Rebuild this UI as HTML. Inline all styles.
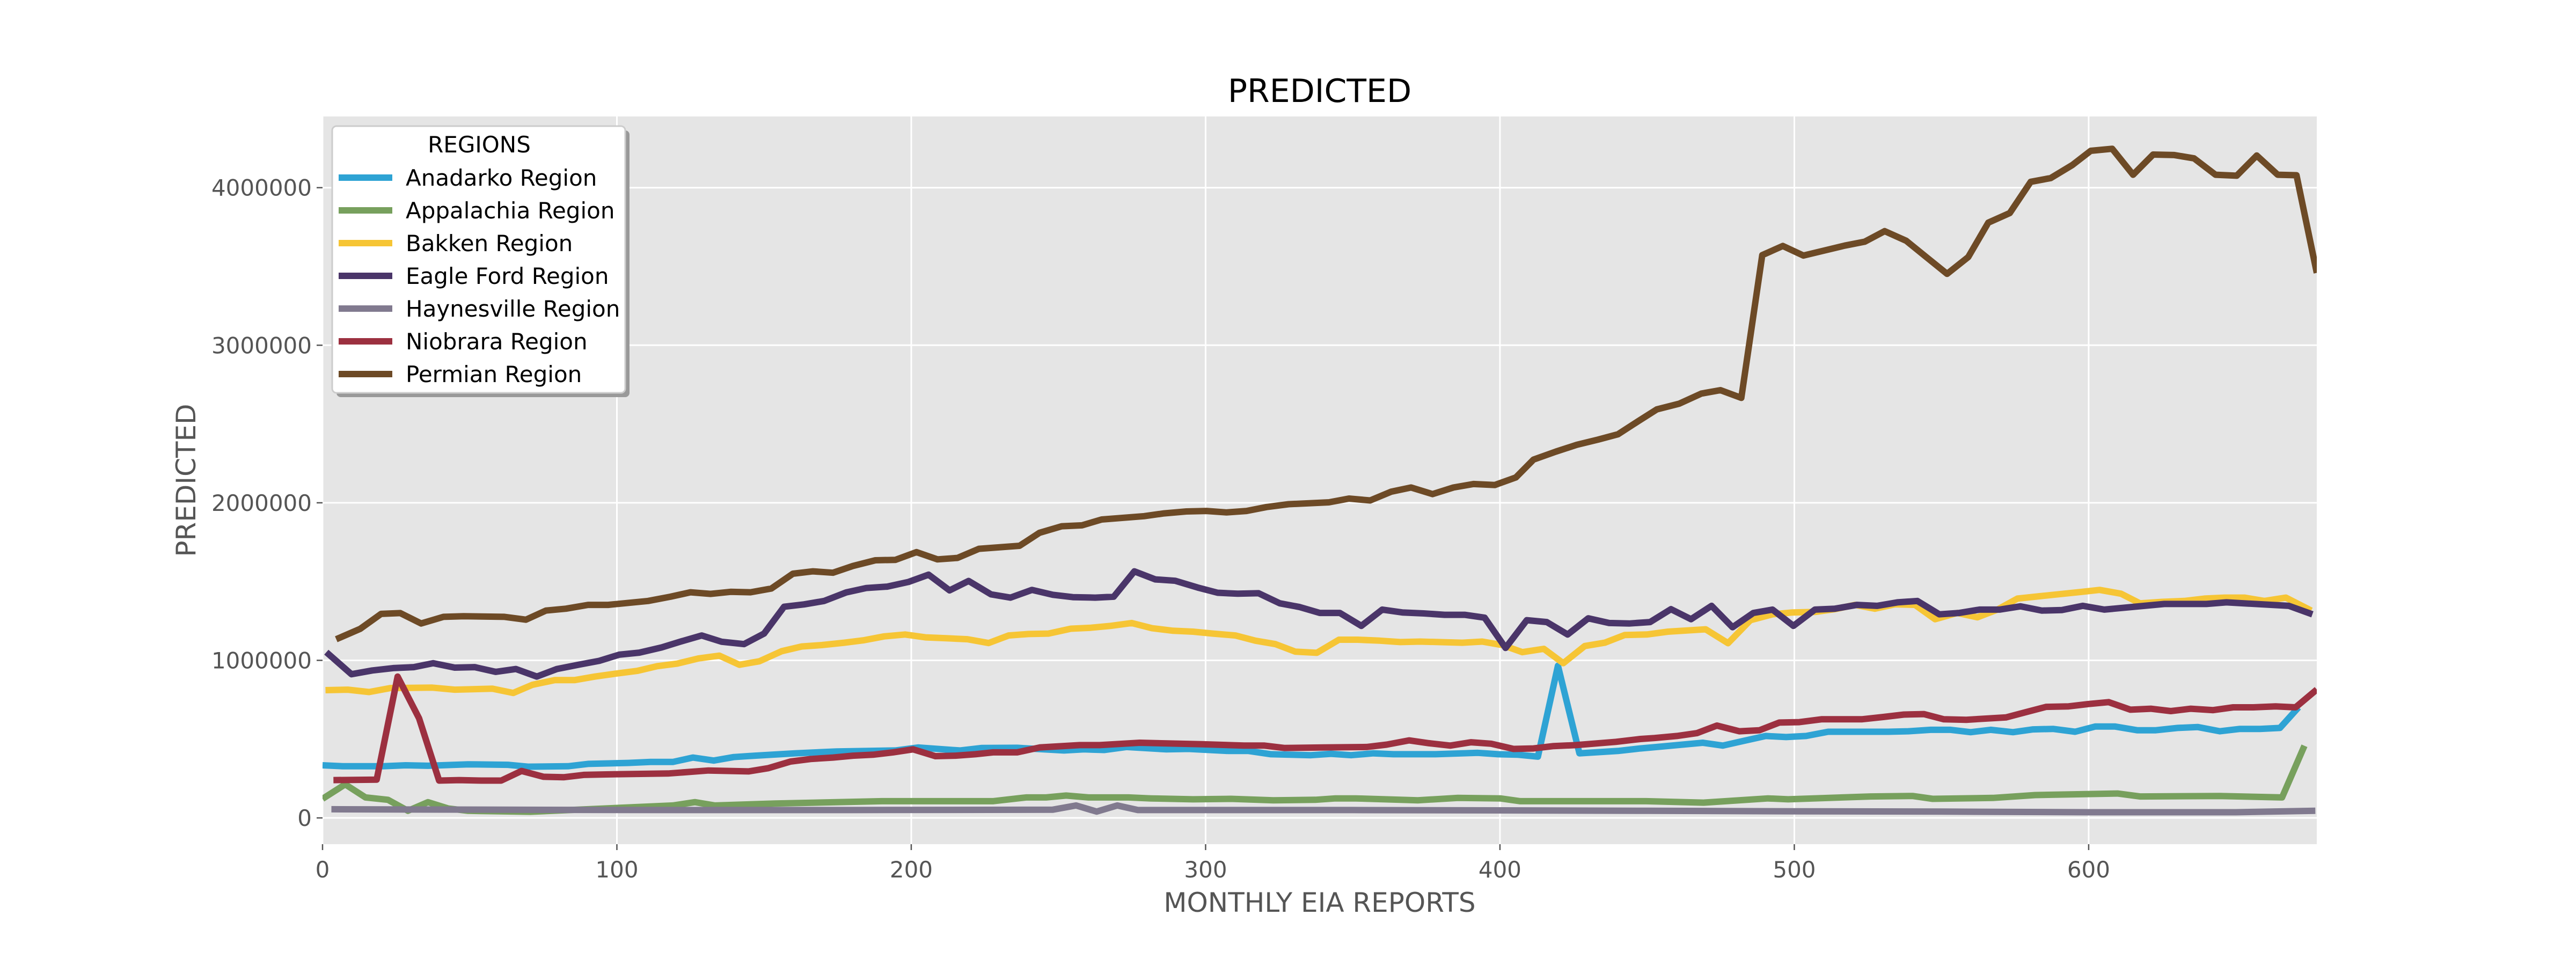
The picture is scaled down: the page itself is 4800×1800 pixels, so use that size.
<!DOCTYPE html>
<html><head><meta charset="utf-8"><style>
html,body{margin:0;padding:0;background:#fff;}
svg{display:block;font-family:"DejaVu Sans","Liberation Sans",sans-serif;}
</style></head><body>
<svg id="chart" width="4800" height="1800" viewBox="0 0 4800 1800">
<rect x="601" y="217" width="3716" height="1356" fill="#e5e5e5"/>
<g id="grid"></g>
<g id="axes"></g>
<g id="series"></g>
<text x="2459" y="190" font-size="60" text-anchor="middle" fill="#000">PREDICTED</text>
<text x="2459" y="1699" font-size="50" text-anchor="middle" fill="#555">MONTHLY EIA REPORTS</text>
<text x="0" y="0" font-size="50" text-anchor="middle" fill="#555" transform="translate(364,895) rotate(-90)">PREDICTED</text>
<g id="legend">
<rect x="627" y="243" width="546" height="497" rx="8" fill="#999"/>
<rect x="619" y="235" width="546" height="497" rx="8" fill="#fff" stroke="#ccc" stroke-width="3"/>
<text x="893" y="284" font-size="42" text-anchor="middle" fill="#000">REGIONS</text>
</g>
</svg>
<script>
const NS='http://www.w3.org/2000/svg';
const xTicks=[0,100,200,300,400,500,600];
const yTicks=[0,1000000,2000000,3000000,4000000];
const yTickLabels=['0','1000000','2000000','3000000','4000000'];
const seriesNames=['Anadarko Region','Appalachia Region','Bakken Region','Eagle Ford Region','Haynesville Region','Niobrara Region','Permian Region'];
const seriesColors=['#2ea3d4','#77a05d','#f6c535','#4a3569','#817a8f','#9c3040','#6d4a26'];
// values in millions
const anadarkoX=[0,7,20.7,28.2,35.8,49.4,63,69.8,83.4,90.2,103.8,111.4,119,125.8,132.9,139.7,146.9,160.5,174.6,194.6,202.4,216.5,224,236,251.9,258.7,265.5,273.1,286.7,294.2,307.8,314.6,322.2,335.8,342.6,349.4,357,363.8,378.1,392.5,399.3,406.1,412.9,419.7,427,440.1,447.7,454.8,468.9,475.7,482.8,490.3,497.2,504,511.5,531.9,538.7,546.3,553.1,559.9,566.7,574.3,581.1,587.9,595.4,602.2,609,616.6,622.6,630.2,637,644.6,651.4,658.2,665,671.3];
const anadarkoY=[0.334,0.328,0.328,0.334,0.331,0.34,0.337,0.325,0.328,0.343,0.349,0.355,0.355,0.383,0.364,0.386,0.395,0.41,0.422,0.428,0.447,0.428,0.444,0.445,0.428,0.435,0.431,0.45,0.435,0.438,0.425,0.425,0.404,0.398,0.407,0.398,0.41,0.404,0.404,0.413,0.404,0.401,0.389,0.966,0.41,0.425,0.441,0.453,0.477,0.459,0.489,0.52,0.513,0.52,0.547,0.547,0.55,0.559,0.559,0.544,0.559,0.544,0.562,0.565,0.547,0.58,0.58,0.556,0.556,0.571,0.577,0.55,0.565,0.565,0.571,0.702];
const appalachiaX=[0,7.7,14.6,22.2,29,35.8,42.6,49.4,70.6,119,126.5,133.3,153.7,190,227.7,239,245.8,252.6,260.2,273.8,281.4,295.7,308.6,323,337.3,344.1,351,372.1,385.7,400.1,406.9,449.7,469.2,491.1,497.9,525.9,540.2,547,567.5,581.8,609.8,617.4,644.6,665.7,673.3];
const appalachiaY=[0.121,0.213,0.13,0.115,0.045,0.1,0.06,0.045,0.039,0.079,0.1,0.079,0.091,0.106,0.106,0.13,0.13,0.142,0.13,0.13,0.124,0.118,0.121,0.112,0.115,0.124,0.124,0.112,0.127,0.124,0.106,0.106,0.097,0.124,0.118,0.136,0.139,0.121,0.127,0.145,0.155,0.136,0.139,0.13,0.458];
const bakkenX=[1,8.6,15.8,23,37.3,44.9,57.7,64.8,71.3,78.9,85.7,92.5,99.3,106.9,113.7,120.5,127.7,134.8,141.6,148.4,156,162.8,169.6,177.2,184,190.8,197.9,204.8,212.4,219.1,226.3,233.1,239.8,246.6,254.2,261,267.8,274.9,281.8,288.9,295.7,302.5,310.1,316.9,323.7,330.5,337.8,345.3,351.7,359.2,366.1,372.9,387.2,394,400.8,407.6,414.9,421.5,428.8,435.6,442.4,449.9,457.1,469.9,477.5,485.1,492.6,499.4,507,513.8,520.6,527.4,534.2,541,547.8,555.4,562.2,569,575.8,583.3,597.7,603.7,611,617.4,624.9,632.5,639.3,646.1,652.9,659.7,667,675.6];
const bakkenY=[0.811,0.814,0.799,0.824,0.827,0.814,0.82,0.793,0.845,0.875,0.875,0.897,0.915,0.933,0.963,0.979,1.012,1.03,0.972,0.994,1.058,1.088,1.097,1.112,1.128,1.152,1.164,1.146,1.14,1.134,1.11,1.158,1.167,1.17,1.201,1.207,1.219,1.237,1.204,1.188,1.182,1.17,1.158,1.125,1.103,1.055,1.048,1.131,1.131,1.125,1.116,1.119,1.112,1.119,1.097,1.052,1.073,0.982,1.091,1.112,1.161,1.164,1.182,1.197,1.109,1.255,1.292,1.304,1.307,1.325,1.352,1.328,1.356,1.352,1.261,1.301,1.273,1.322,1.392,1.407,1.435,1.447,1.423,1.362,1.371,1.377,1.392,1.398,1.398,1.377,1.398,1.316];
const eagleX=[1.3,9.8,16.9,24,31,37.6,44.9,51.7,58.8,65.7,72.8,79.6,87.2,94,100.8,107.6,115.2,122,128.8,135.6,143.2,150,156.8,163.6,170.4,177.9,184.7,191.8,199.1,205.9,213,219.5,227.1,233.7,241,248.1,254.9,262.5,268.8,275.8,282.9,289.7,297.3,304.1,310.9,318,325.2,332,338.8,345.6,352.9,360,366.8,374.1,381.2,388,394.8,401.9,409.1,415.9,423,430,437.1,443.9,451,458.1,464.9,471.9,479,486.1,492.6,499.7,507,513.8,521.3,528.1,535,541.8,549.3,556.1,562.9,569.7,576.8,584.1,590.9,598,605.3,618.9,625.7,640,646.8,668,676];
const eagleY=[1.052,0.912,0.936,0.951,0.957,0.982,0.954,0.957,0.927,0.945,0.897,0.945,0.973,0.997,1.036,1.049,1.082,1.121,1.158,1.118,1.103,1.17,1.34,1.355,1.377,1.431,1.459,1.468,1.498,1.544,1.444,1.504,1.419,1.398,1.447,1.416,1.401,1.398,1.404,1.565,1.514,1.505,1.462,1.429,1.423,1.426,1.362,1.338,1.301,1.301,1.219,1.322,1.304,1.298,1.289,1.289,1.271,1.079,1.255,1.243,1.164,1.267,1.237,1.234,1.243,1.325,1.261,1.346,1.21,1.301,1.322,1.219,1.322,1.328,1.352,1.346,1.368,1.377,1.292,1.301,1.322,1.322,1.343,1.316,1.319,1.346,1.322,1.346,1.358,1.358,1.368,1.346,1.292];
const haynesX=[3,60,120,180,248,256,263,270,277,300,350,400,450,500,550,600,650,677];
const haynesY=[0.055,0.052,0.05,0.05,0.052,0.079,0.04,0.079,0.05,0.05,0.05,0.048,0.045,0.042,0.04,0.036,0.036,0.045];
const niobraraX=[3.7,18.4,25.5,32.8,39.6,46.4,54,60.7,67.6,75.1,81.9,88.7,96.3,117.4,131.1,144.7,151.5,159,165.8,173.4,180.2,187,193.8,200.6,208.2,215,221.8,227.8,236,243.6,257.2,264,277.6,298.8,313.1,320,326.7,340.3,354.7,361.5,369.1,375.9,383.1,390.2,397,404.6,411.4,418.2,425.8,439.4,447.7,452.5,460.1,466.9,473.7,481.3,488.1,494.9,501.7,509.2,522.9,530.4,537.2,544,550.8,558.4,572,578.8,585.6,593.2,600,606.8,614.2,621.1,627.9,634.7,642.3,649.1,655.9,663.5,670.3,677.5];
const niobraraY=[0.24,0.243,0.897,0.632,0.237,0.24,0.237,0.237,0.298,0.261,0.258,0.273,0.276,0.282,0.301,0.295,0.316,0.358,0.374,0.383,0.395,0.401,0.416,0.435,0.392,0.395,0.404,0.416,0.416,0.447,0.462,0.462,0.477,0.468,0.459,0.459,0.444,0.447,0.45,0.465,0.492,0.474,0.459,0.48,0.471,0.438,0.441,0.456,0.462,0.483,0.501,0.507,0.52,0.538,0.586,0.55,0.556,0.605,0.608,0.626,0.626,0.641,0.656,0.659,0.626,0.623,0.638,0.672,0.705,0.708,0.723,0.735,0.687,0.693,0.678,0.693,0.684,0.702,0.702,0.708,0.702,0.815];
const permianX=[4.65,12.8,19.9,26.4,33.5,41.1,47.9,61.8,69.1,75.9,82.7,90.2,97,110.6,118.2,125,131.8,138.6,145.4,152.5,159.8,166.6,173.4,180.2,187.8,194.6,201.8,208.9,215.7,223,236.8,243.6,251.1,258,264.7,279.1,285.9,293.5,300.3,307.1,313.9,320.7,328.2,341.9,348.7,355.9,363,369.8,377.1,384.2,391,398.3,405.4,411.4,419,426.1,433.3,440.1,446.9,453.3,460.9,468.4,474.9,482,489.1,496.1,503.1,510,517.1,523.9,530.7,538,544.8,551.9,559.1,565.9,573.2,580.3,587.1,594.4,600.7,608,615.1,621.9,629.1,635.8,643.1,650.3,657.1,664.2,670.6,677.5];
const permianY=[1.134,1.2,1.295,1.3,1.234,1.276,1.28,1.276,1.258,1.316,1.328,1.352,1.352,1.377,1.404,1.432,1.422,1.435,1.432,1.456,1.55,1.565,1.556,1.599,1.635,1.638,1.687,1.641,1.65,1.708,1.727,1.81,1.851,1.857,1.894,1.915,1.933,1.945,1.948,1.939,1.948,1.973,1.991,2.003,2.027,2.015,2.07,2.097,2.055,2.097,2.119,2.113,2.161,2.274,2.325,2.368,2.401,2.435,2.517,2.593,2.629,2.693,2.715,2.666,3.572,3.63,3.569,3.6,3.632,3.657,3.724,3.663,3.56,3.453,3.56,3.778,3.839,4.037,4.061,4.143,4.234,4.247,4.082,4.21,4.207,4.186,4.082,4.076,4.204,4.082,4.079,3.459];
const allX=[anadarkoX,appalachiaX,bakkenX,eagleX,haynesX,niobraraX,permianX];
const allY=[anadarkoY,appalachiaY,bakkenY,eagleY,haynesY,niobraraY,permianY];

const X0=601,X1=4317,Y0=217,Y1=1573;
const xMin=0,xMax=677.5,yMin=-0.1667e6,yMax=4.452e6;
function xs(v){return X0+(v-xMin)/(xMax-xMin)*(X1-X0);}
function ys(v){return Y1-(v-yMin)/(yMax-yMin)*(Y1-Y0);}
function mk(tag,attrs,parent){const e=document.createElementNS(NS,tag);for(const k in attrs)e.setAttribute(k,attrs[k]);parent.appendChild(e);return e;}

const grid=document.getElementById('grid'),axes=document.getElementById('axes'),ser=document.getElementById('series'),leg=document.getElementById('legend');
xTicks.forEach((t,i)=>{
  const x=xs(t);
  const g=mk('line',{x1:x,x2:x,y1:Y0,y2:Y1,stroke:'#fff','stroke-width':3},grid);
  
  
  const tk=mk('line',{x1:x,x2:x,y1:Y1,y2:Y1+11,stroke:'#555','stroke-width':2.5},axes);
  
  
  const lb=mk('text',{x:x,y:Y1+62,'font-size':42,'text-anchor':'middle',fill:'#555'},axes);
  lb.textContent=String(t);
  
  
});
yTicks.forEach((t,i)=>{
  const y=ys(t);
  const g=mk('line',{x1:X0,x2:X1,y1:y,y2:y,stroke:'#fff','stroke-width':3},grid);
  
  
  const tk=mk('line',{x1:X0-11,x2:X0,y1:y,y2:y,stroke:'#555','stroke-width':2.5},axes);
  
  
  const lb=mk('text',{x:X0-20,y:y+15,'font-size':42,'text-anchor':'end',fill:'#555'},axes);
  lb.textContent=yTickLabels[i];
  
  
});
const clip=mk('clipPath',{id:'pc'},document.getElementById('chart'));
mk('rect',{x:X0,y:Y0,width:X1-X0,height:Y1-Y0},clip);
ser.setAttribute('clip-path','url(#pc)');
seriesNames.forEach((n,i)=>{
  const pts=allX[i].map((x,j)=>xs(x).toFixed(1)+','+ys(allY[i][j]*1e6).toFixed(1)).join(' ');
  const p=mk('polyline',{points:pts,fill:'none',stroke:seriesColors[i],'stroke-width':12,'stroke-linejoin':'round','stroke-linecap':'butt'},ser);
  
  
  const ly=331+i*61;
  const sw=mk('line',{x1:631,x2:731,y1:ly,y2:ly,stroke:seriesColors[i],'stroke-width':12},leg);
  
  
  const t=mk('text',{x:756,y:ly+15,'font-size':42,fill:'#000'},leg);
  t.textContent=n;
  
  
});
</script>
</body></html>
